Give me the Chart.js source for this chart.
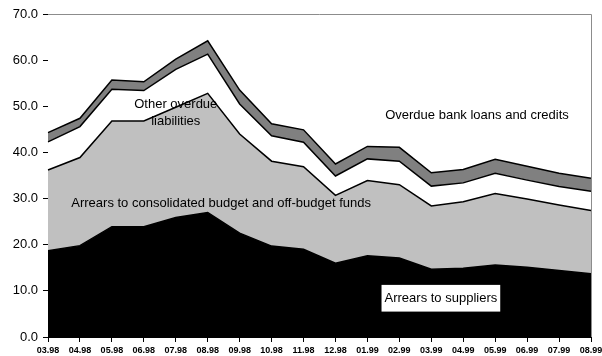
<!DOCTYPE html>
<html>
<head>
<meta charset="utf-8">
<script src="https://cdn.jsdelivr.net/npm/chart.js@4/dist/chart.umd.min.js"></script>
<style>
html,body{margin:0;padding:0;background:#fff;}
canvas{display:block;}
</style>
</head>
<body>
<canvas id="c" width="602" height="356"></canvas>
<script>
// Categories (month.year)
const months = ["03.98","04.98","05.98","06.98","07.98","08.98","09.98","10.98","11.98","12.98",
                "01.99","02.99","03.99","04.99","05.99","06.99","07.99","08.99"];
// Series values (stacked components)
const arrearsSuppliers = [18.7,19.8,23.9,23.9,25.9,27.0,22.5,19.7,19.0,16.0,17.6,17.1,14.7,14.9,15.6,15.1,14.4,13.7];
const arrearsBudget    = [17.5,19.1,22.9,22.9,23.9,25.8,21.5,18.4,17.9,14.7,16.3,15.9,13.7,14.4,15.5,14.8,14.2,13.7];
const otherOverdue     = [6.1,6.7,6.9,6.6,8.2,8.5,6.5,5.5,5.3,4.2,4.7,5.1,4.3,4.1,4.4,4.1,4.0,4.2];
const bankLoans        = [2.0,1.8,2.0,1.9,2.2,2.9,3.0,2.6,2.7,2.6,2.7,3.0,2.9,2.9,3.0,3.0,2.9,2.8];
// Y tick settings
const yMin = 0, yMax = 70, yStep = 10;

const FONT = "'Liberation Sans', Arial, sans-serif";

const annotations = [
  {lines:["Other overdue","liabilities"], x:4.0, y:48.5, box:false},
  {lines:["Overdue bank loans and credits"], x:13.43, y:48.1, box:false},
  {lines:["Arrears to consolidated budget and off-budget funds"], x:5.42, y:29.0, box:false},
  {lines:["Arrears to suppliers"], x:12.3, y:8.4, box:true}
];

const frame = {
  id:'frame',
  beforeDatasetsDraw(chart){
    const a = chart.chartArea, ctx = chart.ctx;
    ctx.save();
    ctx.fillStyle = '#fff';
    ctx.fillRect(a.left, a.top, a.right-a.left, a.bottom-a.top);
    ctx.restore();
  },
  afterDatasetsDraw(chart){
    const a = chart.chartArea, ctx = chart.ctx;
    ctx.save();
    ctx.strokeStyle = '#8c8c8c';
    ctx.lineWidth = 1;
    ctx.beginPath();
    ctx.moveTo(a.left, a.top+0.5);
    ctx.lineTo(a.right+0.5, a.top+0.5);
    ctx.lineTo(a.right+0.5, a.bottom);
    ctx.stroke();
    const xs = chart.scales.x, ys = chart.scales.y;
    ctx.font = "13px " + FONT;
    ctx.textAlign = 'center';
    ctx.textBaseline = 'middle';
    annotations.forEach(an => {
      const cx = xs.getPixelForValue(an.x);
      const cy = ys.getPixelForValue(an.y);
      const lh = 16.7;
      if (an.box) {
        const w = Math.max(...an.lines.map(l => ctx.measureText(l).width)) + 6;
        const h = an.lines.length*lh + 10;
        ctx.fillStyle = '#fff';
        ctx.fillRect(cx - w/2, cy - h/2, w, h);
      }
      ctx.fillStyle = '#000';
      an.lines.forEach((l,i) => {
        ctx.fillText(l, cx, cy + (i - (an.lines.length-1)/2)*lh);
      });
    });
    ctx.restore();
  }
};

const ds = (label, data, color, fill) => ({
  label, data, fill,
  backgroundColor: color,
  borderColor: '#000',
  borderWidth: 1.5,
  pointRadius: 0,
  tension: 0
});

new Chart(document.getElementById('c'), {
  type: 'line',
  data: {
    labels: months,
    datasets: [
      ds('Arrears to suppliers', arrearsSuppliers, '#000000', 'origin'),
      ds('Arrears to consolidated budget and off-budget funds', arrearsBudget, '#c0c0c0', '-1'),
      ds('Other overdue liabilities', otherOverdue, '#ffffff', '-1'),
      ds('Overdue bank loans and credits', bankLoans, '#808080', '-1')
    ]
  },
  options: {
    responsive: false,
    animation: false,
    devicePixelRatio: 1,
    layout: { padding: { top: 14, right: 11, left: 0, bottom: 0 } },
    plugins: { legend: { display: false }, tooltip: { enabled: false } },
    scales: {
      x: {
        offset: false,
        grid: { drawOnChartArea: false, drawTicks: true, tickLength: 5, color: '#000' },
        border: { color: '#000', width: 1 },
        ticks: {
          autoSkip: false, maxRotation: 0, minRotation: 0,
          color: '#000', padding: 3,
          font: { family: FONT, size: 9, weight: 'bold' }
        },
        afterFit(scale){ scale.height = 19; scale.paddingLeft = 0; scale.paddingRight = 0; }
      },
      y: {
        stacked: true,
        min: yMin, max: yMax,
        grid: { drawOnChartArea: false, drawTicks: true, tickLength: 5, color: '#000' },
        border: { color: '#000', width: 1 },
        ticks: {
          stepSize: yStep, color: '#000', padding: 5,
          font: { family: FONT, size: 13 },
          callback: v => Number(v).toFixed(1)
        },
        afterFit(scale){ scale.width = 48; }
      }
    }
  },
  plugins: [frame]
});
</script>
</body>
</html>
